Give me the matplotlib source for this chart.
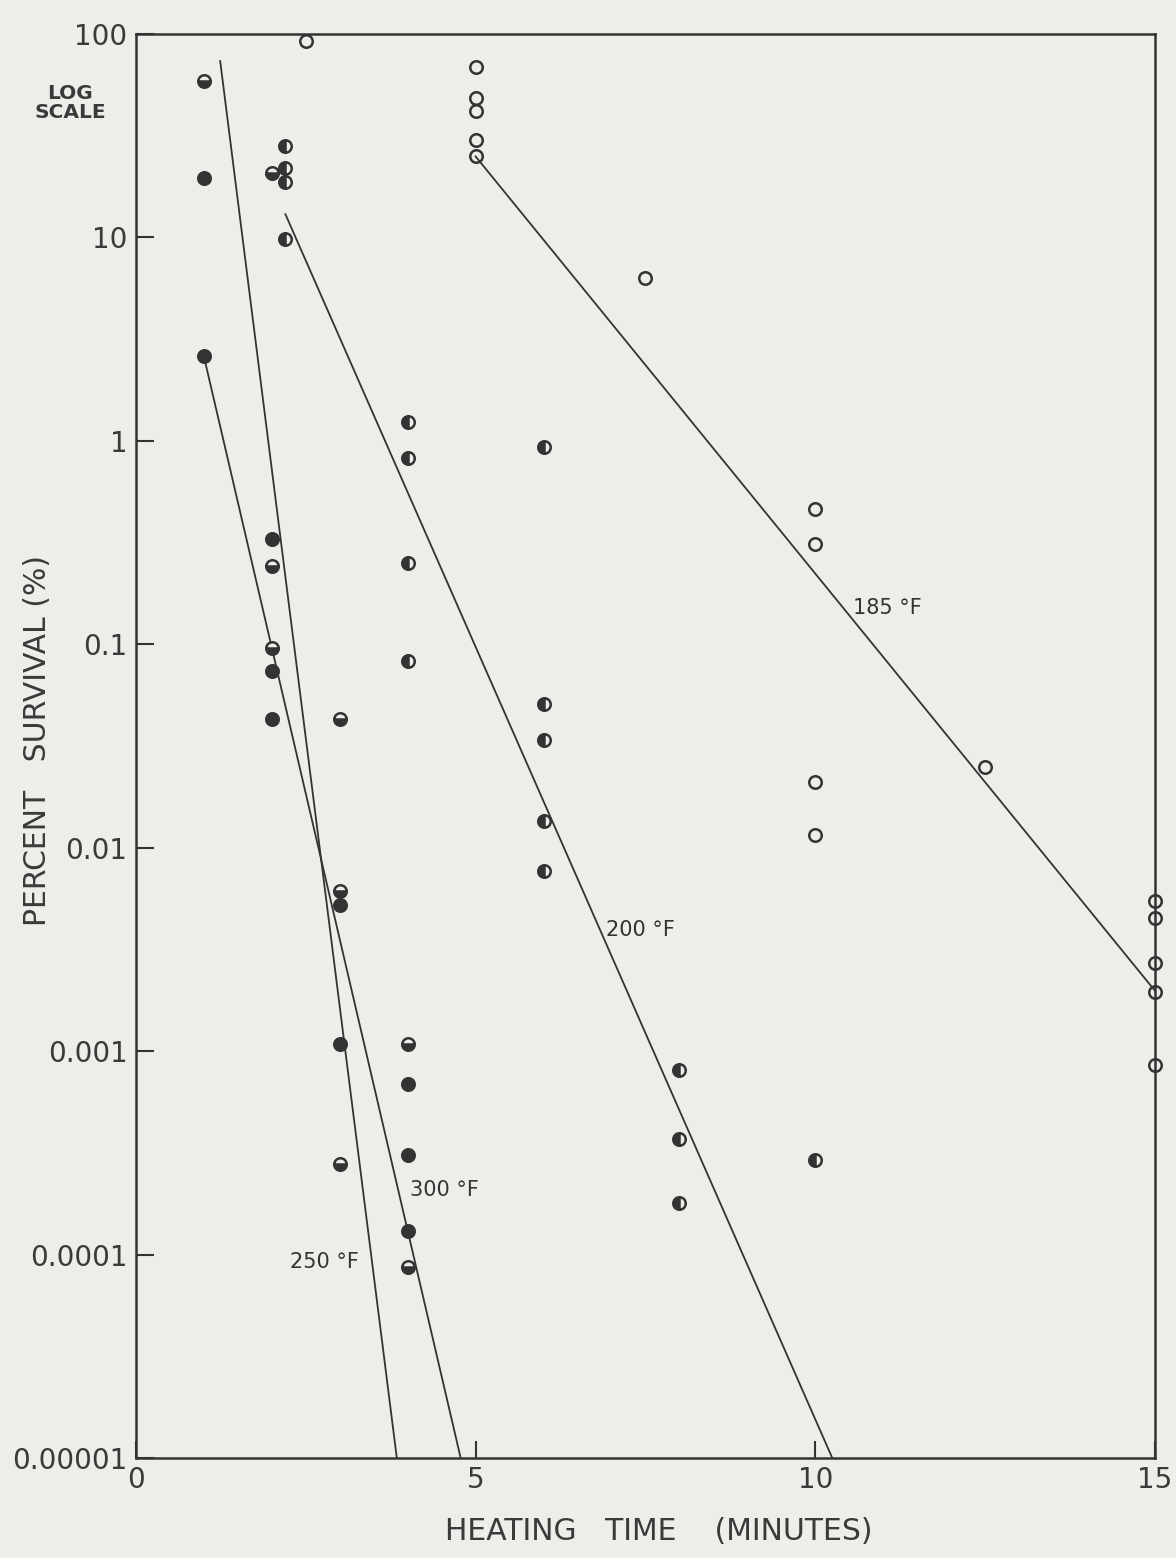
import matplotlib
matplotlib.use("Agg")
import matplotlib.pyplot as plt
from matplotlib.ticker import FixedLocator, NullLocator

# survival data (percent), one group per temperature
t185 = [2.5, 5, 5, 5, 5, 5, 7.5, 10, 10, 10, 10, 12.5, 15, 15, 15, 15, 15]
s185 = [92, 69, 48.5, 42, 30, 25, 6.3, 0.46, 0.31, 0.021, 0.0115, 0.025,
        0.0055, 0.0045, 0.0027, 0.00195, 0.00085]

t200 = [2.2, 2.2, 2.2, 2.2, 4, 4, 4, 4, 6, 6, 6, 6, 6, 8, 8, 8, 10]
s200 = [28, 22, 18.7, 9.8, 1.24, 0.82, 0.25, 0.083, 0.93, 0.051, 0.034,
        0.0136, 0.0077, 0.00081, 0.00037, 0.00018, 0.00029]

t250 = [1, 2, 2, 2, 3, 3, 3, 4, 4]
s250 = [58.7, 20.7, 0.243, 0.096, 0.043, 0.0061, 0.00028, 0.00109, 0.000087]

t300 = [1, 1, 2, 2, 2, 3, 3, 4, 4, 4]
s300 = [19.6, 2.6, 0.33, 0.074, 0.043, 0.0052, 0.00108, 0.00069, 0.00031,
        0.000131]

# fitted lines (start / end points)
fit185_t = [5.0, 15.0]
fit185_s = [25, 0.00198]
fit200_t = [2.2, 10.25]
fit200_s = [13.0, 1e-5]
fit250_t = [1.24, 3.84]
fit250_s = [73.6, 1e-5]
fit300_t = [1.0, 4.78]
fit300_s = [2.6, 1e-5]

yticks = [100, 10, 1, 0.1, 0.01, 0.001, 0.0001, 0.00001]
ylabels = ["100", "10", "1", "0.1", "0.01", "0.001", "0.0001", "0.00001"]
xticks = [0, 5, 10, 15]
xlabels = ["0", "5", "10", "15"]

bg = "#efede9"
ink = "#333333"

plt.rcParams["font.family"] = ["DejaVu Sans"]

fig = plt.figure(figsize=(11.76, 15.58), dpi=100, facecolor=bg)
ax = fig.add_axes([0.1156, 0.0642, 0.8665, 0.914])
ax.set_facecolor(bg)
ax.set_yscale("log")
ax.set_xlim(0, 15)
ax.set_ylim(1e-5, 100)

# fitted lines
lw = 1.3
ax.plot(fit185_t, fit185_s, "-", color=ink, lw=lw)
ax.plot(fit200_t, fit200_s, "-", color=ink, lw=lw)
ax.plot(fit250_t, fit250_s, "-", color=ink, lw=lw)
ax.plot(fit300_t, fit300_s, "-", color=ink, lw=lw)

# data points
ms = 9
ax.plot(t185, s185, "o", ms=ms, fillstyle="none", mec=ink, mew=1.8,
        clip_on=False, zorder=3)
ax.plot(t200, s200, "o", ms=ms, fillstyle="left", mfc=ink, mfcalt=bg,
        mec=ink, mew=1.8, clip_on=False, zorder=3)
ax.plot(t250, s250, "o", ms=ms, fillstyle="bottom", mfc=ink, mfcalt=bg,
        mec=ink, mew=1.8, clip_on=False, zorder=3)
ax.plot(t300, s300, "o", ms=ms, mfc=ink, mec=ink, mew=1.8,
        clip_on=False, zorder=3)

# line labels
lab = dict(fontsize=15, color=ink, va="center", ha="left")
ax.text(10.55, 0.15, "185 °F", **lab)
ax.text(6.92, 0.00394, "200 °F", **lab)
ax.text(4.03, 0.000207, "300 °F", **lab)
ax.text(2.27, 0.000092, "250 °F", **lab)

# axes styling
for sp in ax.spines.values():
    sp.set_color(ink)
    sp.set_linewidth(1.8)

ax.yaxis.set_major_locator(FixedLocator(yticks))
ax.set_yticklabels(ylabels)
ax.yaxis.set_minor_locator(NullLocator())
ax.set_xticks(xticks)
ax.set_xticklabels(xlabels)
ax.tick_params(axis="y", direction="in", length=13, width=1.5, color=ink,
               labelsize=20, labelcolor="#3a3a3a", pad=6)
ax.tick_params(axis="x", direction="in", length=12, width=1.5, color=ink,
               labelsize=20, labelcolor="#3a3a3a", pad=6)

fig.text(0.0595, 0.934, "LOG\nSCALE", ha="center", va="center",
         fontsize=14.5, fontweight="bold", color="#3a3a3a", linespacing=1.0)
fig.text(0.032, 0.525, "PERCENT   SURVIVAL (%)", rotation=90, ha="center",
         va="center", fontsize=21.5, color="#3a3a3a")
fig.text(0.56, 0.017, "HEATING   TIME    (MINUTES)", ha="center",
         va="center", fontsize=21.5, color="#3a3a3a")

fig.savefig("out.png", dpi=100, facecolor=bg)
